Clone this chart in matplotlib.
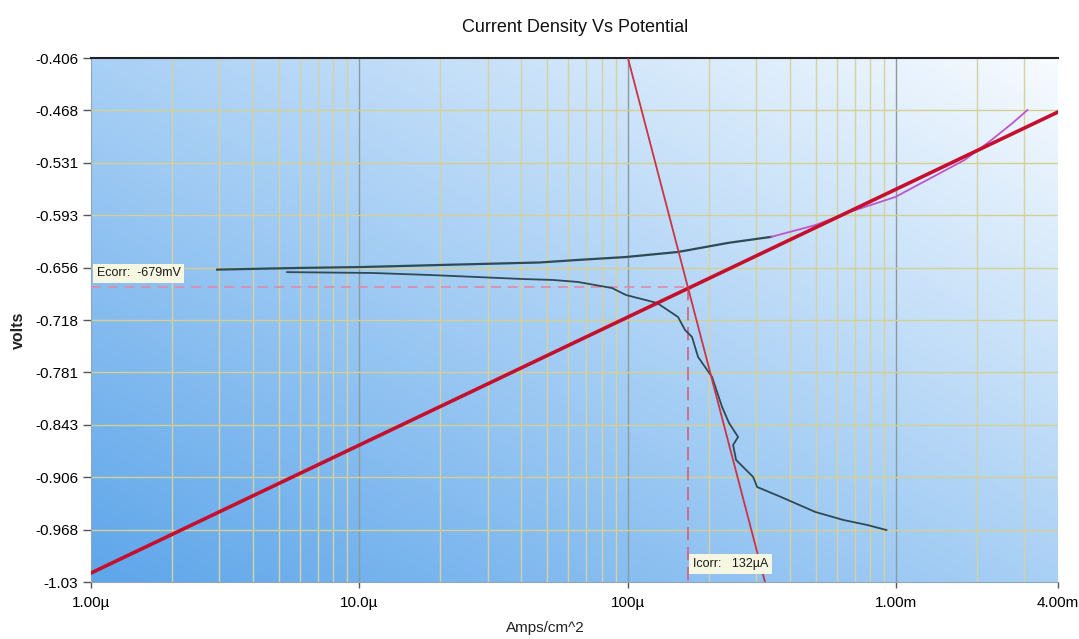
import numpy as np
import matplotlib
matplotlib.use("Agg")
import matplotlib.pyplot as plt
from matplotlib.ticker import FixedLocator, NullFormatter
from matplotlib.colors import LinearSegmentedColormap

plt.rcParams['font.family'] = ['Liberation Sans', 'DejaVu Sans']

# measured polarisation curve, anodic branch (dark part then fitted magenta part)
i_an = [2.95e-6, 5.97e-6, 1.0e-5, 1.99e-5, 4.69e-5, 6.51e-5, 9.83e-5, 1.537e-4, 2.38e-4, 3.42e-4]
e_an = [-0.658, -0.656, -0.655, -0.6525, -0.6495, -0.6465, -0.643, -0.637, -0.626, -0.619]
i_fit = [3.42e-4, 4.99e-4, 6.74e-4, 9.91e-4, 1.794e-3, 2.262e-3, 2.71e-3, 3.08e-3]
e_fit = [-0.619, -0.605, -0.589, -0.5715, -0.5275, -0.5036, -0.4834, -0.4679]

# cathodic branch
i_cat = [5.38e-6, 1.118e-5, 1.825e-5, 2.733e-5, 4.06e-5, 5.25e-5, 6.51e-5, 8.72e-5,
         9.83e-5, 1.283e-4, 1.537e-4, 1.632e-4, 1.733e-4, 1.825e-4, 2.058e-4, 2.243e-4,
         2.38e-4, 2.573e-4, 2.465e-4, 2.529e-4, 2.927e-4, 3.03e-4, 3.72e-4, 4.99e-4,
         6.34e-4, 7.79e-4, 9.18e-4]
e_cat = [-0.661, -0.662, -0.6644, -0.6668, -0.6692, -0.6703, -0.6727, -0.6799,
         -0.6882, -0.6977, -0.7144, -0.7299, -0.7382, -0.762, -0.7859, -0.8216,
         -0.8406, -0.8573, -0.8668, -0.8847, -0.9049, -0.9169, -0.9288, -0.9466,
         -0.9561, -0.9621, -0.9681]

# Tafel fit lines (end points)
tafel_a_i = [1e-6, 4e-3]
tafel_a_e = [-1.0193, -0.4703]
tafel_c_i = [1e-4, 3.24e-4]
tafel_c_e = [-0.406, -1.03]

ecorr = -0.679
icorr = 1.677e-4
ecorr_label = "Ecorr:  -679mV"
icorr_label = "Icorr:   132µA"

y_ticks = np.linspace(-1.03, -0.406, 11)
y_labels = ["-1.03", "-0.968", "-0.906", "-0.843", "-0.781", "-0.718",
            "-0.656", "-0.593", "-0.531", "-0.468", "-0.406"]
x_ticks = [1e-6, 1e-5, 1e-4, 1e-3, 4e-3]
x_labels = ["1.00µ", "10.0µ", "100µ", "1.00m", "4.00m"]

fig = plt.figure(figsize=(10.79, 6.39), dpi=100)
ax = fig.add_axes([91/1079, 1-582/639, 967/1079, 524/639])
ax.set_xscale('log')
ax.set_xlim(1e-6, 4e-3)
ax.set_ylim(-1.03, -0.406)

# background gradient, dark blue bottom-left to white top-right
n = 300
u, v = np.meshgrid(np.linspace(0, 1, n), np.linspace(0, 1, n))
t = (u + v) / 2
cmap = LinearSegmentedColormap.from_list("bg", ["#5ea6ea", "#a9d0f5", "#f7fbff"])
ax.imshow(t, cmap=cmap, extent=[0, 1, 0, 1], transform=ax.transAxes,
          origin='lower', aspect='auto', zorder=0, interpolation='bilinear')

# grid
minors = []
for d in [1e-6, 1e-5, 1e-4, 1e-3]:
    for k in range(2, 10):
        if d * k < 4e-3:
            minors.append(d * k)
ax.xaxis.set_minor_locator(FixedLocator(minors))
ax.xaxis.set_minor_formatter(NullFormatter())
ax.set_xticks(x_ticks)
ax.set_xticklabels(x_labels)
ax.set_yticks(y_ticks)
ax.set_yticklabels(y_labels)
ax.grid(False)
for xm in minors:
    ax.axvline(xm, color='#d6d2a0', lw=1.0, zorder=1)
for xm in [1e-5, 1e-4, 1e-3]:
    ax.axvline(xm, color='#8c9a9c', lw=1.0, zorder=1)
for yv in y_ticks[1:-1]:
    ax.axhline(yv, color='#d4d092', lw=1.0, zorder=1)

ax.tick_params(which='minor', length=0)
ax.tick_params(axis='y', length=6, width=1, color='#555555', labelsize=11, pad=3)
ax.tick_params(axis='x', length=4, width=1, color='#555555', labelsize=11, pad=6)
ax.get_xticklabels()[-1].set_horizontalalignment('center')

for s in ['left', 'bottom', 'right']:
    ax.spines[s].set_color('#8fa6b8')
ax.spines['top'].set_color('#222222')
ax.spines['top'].set_linewidth(1.5)
ax.spines['right'].set_visible(False)

# corrosion markers
ax.plot([1e-6, icorr], [ecorr, ecorr], color='#e08aa8', lw=1.2, ls=(0, (6, 4)), zorder=3)
ax.plot([icorr, icorr], [ecorr, -1.03], color='#d06080', lw=1.2, ls=(0, (8, 4)), zorder=3)

# data curves
ax.plot(i_an, e_an, color='#2e4a55', lw=1.6, zorder=4)
ax.plot(i_cat, e_cat, color='#2e4a55', lw=1.3, zorder=4)
ax.plot(i_fit, e_fit, color='#c054d0', lw=1.3, zorder=4)

# Tafel lines
ax.plot(tafel_a_i, tafel_a_e, color='#c4102c', lw=2.6, zorder=5)
ax.plot(tafel_c_i, tafel_c_e, color='#cc3344', lw=1.3, zorder=5)

box = dict(boxstyle='square,pad=0.3', facecolor='#f6f7e2', edgecolor='none')
ax.text(1.05e-6, -0.6625, ecorr_label, fontsize=9, color='#1a1a1a',
        va='center', ha='left', bbox=box, zorder=6)
ax.text(icorr * 1.04, -1.0085, icorr_label, fontsize=9, color='#1a1a1a',
        va='center', ha='left', bbox=box, zorder=6)

fig.text(575/1079, 1-28/639, "Current Density Vs Potential", fontsize=13,
         ha='center', va='center', color='#111111')
fig.text(545/1079, 1-628/639, "Amps/cm^2", fontsize=11, ha='center', va='center',
         color='#222222')
fig.text(18/1079, 1-330/639, "volts", fontsize=11.5, fontweight='bold', rotation=90,
         ha='center', va='center', color='#222222')

fig.savefig("out.png", dpi=100)
